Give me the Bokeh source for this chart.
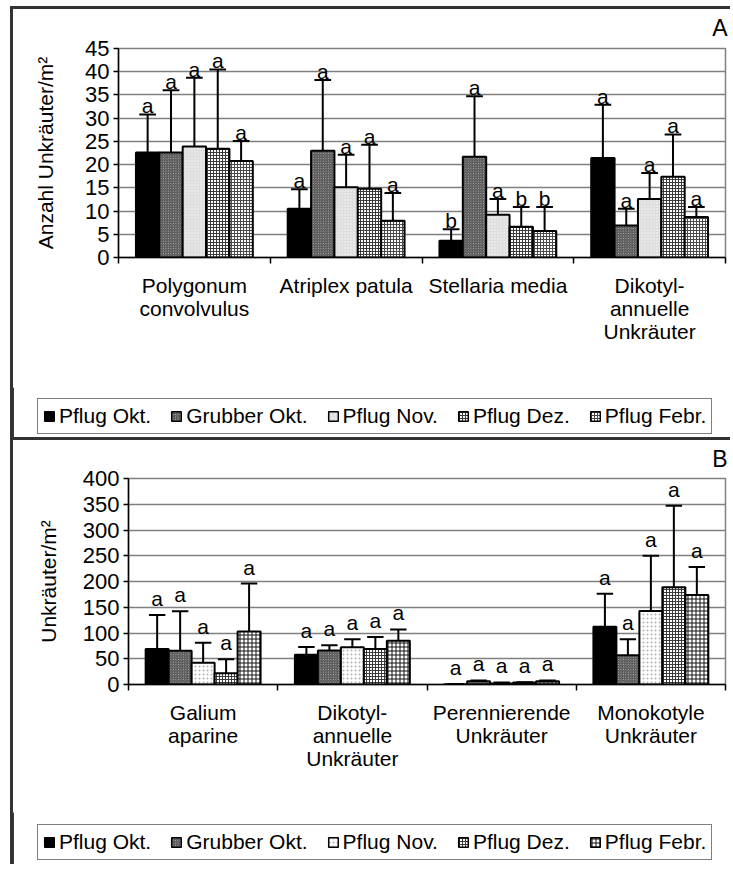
import numpy as np
from bokeh.plotting import figure
from bokeh.models import FixedTicker, Legend, LegendItem, Range1d
from bokeh.core.properties import value
from bokeh.embed import file_html
from bokeh.resources import INLINE

FONT = "Liberation Sans"

series = ["Pflug Okt.", "Grubber Okt.", "Pflug Nov.", "Pflug Dez.", "Pflug Febr."]

# ---- Panel A: Anzahl Unkräuter/m² ----
cats_a = ["Polygonum\nconvolvulus", "Atriplex patula", "Stellaria media",
          "Dikotyl-\nannuelle\nUnkräuter"]
a_pflug_okt = [22.6, 10.5, 3.6, 21.4]
a_grubber_okt = [22.6, 23.0, 21.7, 6.9]
a_pflug_nov = [23.9, 15.1, 9.2, 12.6]
a_pflug_dez = [23.4, 14.8, 6.6, 17.4]
a_pflug_febr = [20.8, 7.9, 5.7, 8.7]

a_sd_pflug_okt = [8.2, 4.2, 2.5, 11.5]
a_sd_grubber_okt = [13.4, 15.2, 13.0, 3.6]
a_sd_pflug_nov = [14.8, 7.0, 3.4, 5.6]
a_sd_pflug_dez = [17.1, 9.5, 4.3, 9.1]
a_sd_pflug_febr = [4.3, 6.0, 5.2, 2.2]

a_sig_pflug_okt = ["a", "a", "b", "a"]
a_sig_grubber_okt = ["a", "a", "a", "a"]
a_sig_pflug_nov = ["a", "a", "a", "a"]
a_sig_pflug_dez = ["a", "a", "b", "a"]
a_sig_pflug_febr = ["a", "a", "b", "a"]

# ---- Panel B: Unkräuter/m² ----
cats_b = ["Galium\naparine", "Dikotyl-\nannuelle\nUnkräuter",
          "Perennierende\nUnkräuter", "Monokotyle\nUnkräuter"]
b_pflug_okt = [69, 58, 0.5, 112]
b_grubber_okt = [65.5, 66, 6.5, 57]
b_pflug_nov = [42, 72.5, 2, 142.5]
b_pflug_dez = [22, 69, 4, 189]
b_pflug_febr = [103, 85, 6.5, 174]

b_sd_pflug_okt = [66, 15, 0.5, 64]
b_sd_grubber_okt = [76.5, 10, 1.5, 31]
b_sd_pflug_nov = [39, 15.5, 2, 107.5]
b_sd_pflug_dez = [27, 23, 0.5, 158]
b_sd_pflug_febr = [93, 22, 1.5, 54]

b_sig = ["a", "a", "a", "a"]

a_yticks = list(range(0, 46, 5))
b_yticks = list(range(0, 401, 50))

# fill styles per series (panel A, panel B)
styles_a = [
    dict(fill_color="black"),
    dict(fill_color="#e4e4e4", hatch_pattern="\\", hatch_color="#444444", hatch_scale=2.5, hatch_weight=1),
    dict(fill_color="#dedede", hatch_pattern=".", hatch_color="#f6f6f6", hatch_scale=3, hatch_weight=1),
    dict(fill_color="#ffffff", hatch_pattern="+", hatch_color="#3a3a3a", hatch_scale=3, hatch_weight=1),
    dict(fill_color="#ffffff", hatch_pattern="+", hatch_color="#4a4a4a", hatch_scale=3, hatch_weight=1),
]
styles_b = [
    dict(fill_color="black"),
    dict(fill_color="#e4e4e4", hatch_pattern="\\", hatch_color="#444444", hatch_scale=2.5, hatch_weight=1),
    dict(fill_color="#ffffff", hatch_pattern=".", hatch_color="#b0b0b0", hatch_scale=4, hatch_weight=1),
    dict(fill_color="#ffffff", hatch_pattern="+", hatch_color="#3a3a3a", hatch_scale=3, hatch_weight=1),
    dict(fill_color="#ffffff", hatch_pattern="+", hatch_color="#111111", hatch_scale=4, hatch_weight=1),
]

BAR_W = 0.154
CAP_W = 0.11
LINE = "#333333"
CHART_BORDER = {"border-left": f"3px solid {LINE}", "border-top": f"3px solid {LINE}"}
LEGEND_BORDER = {"border-left": f"2px solid {LINE}"}


def chart(tag, cats, means, sds, sigs, yticks, ylabel, styles, height,
          border_left, border_top, border_bottom, label_gap, ylabel_standoff,
          title_standoff, margin):
    ymax = yticks[-1]
    p = figure(width=720, height=height, x_range=Range1d(0, len(cats)),
               y_range=Range1d(0, ymax), output_backend="svg",
               toolbar_location=None, min_border_left=border_left,
               min_border_right=8, min_border_top=border_top,
               min_border_bottom=border_bottom, margin=margin, styles=CHART_BORDER)
    p.background_fill_color = "white"
    p.border_fill_color = "white"
    p.outline_line_color = "#808080"
    p.outline_line_width = 1.5

    p.title.text = tag
    p.title.align = "right"
    p.title.vertical_align = "top"
    p.title.text_font = FONT
    p.title.text_font_size = "23px"
    p.title.text_font_style = "normal"
    p.title.text_color = "black"
    p.title.text_line_height = 0.9
    p.title.standoff = title_standoff
    p.title.offset = -2

    # x axis: labels centred on groups, tick marks at group boundaries
    centres = np.arange(len(cats)) + 0.5
    p.xaxis.ticker = FixedTicker(ticks=list(centres), minor_ticks=list(range(len(cats) + 1)))
    p.xaxis.major_label_overrides = {float(c): lab for c, lab in zip(centres, cats)}
    p.xaxis.major_tick_line_color = None
    p.xaxis.minor_tick_in = 0
    p.xaxis.minor_tick_out = 6
    p.xaxis.minor_tick_line_color = "black"
    p.xaxis.minor_tick_line_width = 1.5
    p.xaxis.axis_line_color = "black"
    p.xaxis.axis_line_width = 1.5
    p.xaxis.major_label_text_font = FONT
    p.xaxis.major_label_text_font_size = "21px"
    p.xaxis.major_label_text_line_height = 1.0
    p.xaxis.major_label_text_color = "black"
    p.xaxis.major_label_standoff = 10

    p.yaxis.ticker = FixedTicker(ticks=yticks)
    p.yaxis.minor_tick_line_color = None
    p.yaxis.major_tick_in = 0
    p.yaxis.major_tick_out = 5
    p.yaxis.major_tick_line_color = "black"
    p.yaxis.major_tick_line_width = 1.5
    p.yaxis.axis_line_color = "black"
    p.yaxis.axis_line_width = 1.5
    p.yaxis.major_label_text_font = FONT
    p.yaxis.major_label_text_font_size = "22px"
    p.yaxis.major_label_text_color = "black"
    p.yaxis.major_label_standoff = 4
    p.yaxis.axis_label = ylabel
    p.yaxis.axis_label_text_font = FONT
    p.yaxis.axis_label_text_font_size = "21px"
    p.yaxis.axis_label_text_font_style = "normal"
    p.yaxis.axis_label_text_color = "black"
    p.yaxis.axis_label_standoff = ylabel_standoff

    p.xgrid.grid_line_color = None
    p.ygrid.ticker = FixedTicker(ticks=yticks)
    p.ygrid.grid_line_color = "#808080"
    p.ygrid.grid_line_width = 1.5

    n = len(series)
    offsets = (np.arange(n) - (n - 1) / 2) * BAR_W
    for k in range(n):
        x = centres + offsets[k]
        m = np.array(means[k], dtype=float)
        top = m + np.array(sds[k], dtype=float)
        p.vbar(x=x, top=m, bottom=0, width=BAR_W, line_color="black",
               line_width=2, **styles[k])
        p.segment(x0=x, y0=m, x1=x, y1=top, line_color="black", line_width=2)
        p.segment(x0=x - CAP_W / 2, y0=top, x1=x + CAP_W / 2, y1=top,
                  line_color="black", line_width=2)
        p.text(x=x, y=top, text=sigs[k], text_align="center",
               text_baseline="bottom", y_offset=-label_gap,
               text_font=value(FONT), text_font_size="21px", text_color="black")
    return p


def legend_box(styles, height, location):
    lf = figure(width=721, height=height, x_range=Range1d(0, 1),
                y_range=Range1d(0, 1), output_backend="svg",
                toolbar_location=None, x_axis_location=None,
                y_axis_location=None, min_border=0,
                margin=(0, 0, 0, 10), styles=LEGEND_BORDER)
    lf.grid.visible = False
    lf.outline_line_color = None
    items = []
    for k in range(len(series)):
        # legend proxy bar, kept outside the visible x range
        r = lf.vbar(x=[-5.0], top=[1.0], width=0.1, line_color="black",
                    line_width=1.5, **styles[k])
        items.append(LegendItem(label=series[k], renderers=[r]))
    legend = Legend(items=items, orientation="horizontal", location=location,
                    border_line_color="black", border_line_width=1.5,
                    background_fill_color="white", background_fill_alpha=1.0,
                    label_text_font=FONT, label_text_font_size="21px",
                    label_text_color="black",
                    glyph_width=12, glyph_height=12, label_standoff=4,
                    spacing=19, padding=5, margin=0, label_height=20)
    lf.add_layout(legend)
    return lf


pa = chart("A", cats_a,
           [a_pflug_okt, a_grubber_okt, a_pflug_nov, a_pflug_dez, a_pflug_febr],
           [a_sd_pflug_okt, a_sd_grubber_okt, a_sd_pflug_nov, a_sd_pflug_dez, a_sd_pflug_febr],
           [a_sig_pflug_okt, a_sig_grubber_okt, a_sig_pflug_nov, a_sig_pflug_dez, a_sig_pflug_febr],
           a_yticks, "Anzahl Unkräuter/m²", styles_a, 381, 105, 39, 133, -3, 25, 11,
           (6, 0, 0, 10))
la = legend_box(styles_a, 50, (25, 3))

pb = chart("B", cats_b,
           [b_pflug_okt, b_grubber_okt, b_pflug_nov, b_pflug_dez, b_pflug_febr],
           [b_sd_pflug_okt, b_sd_grubber_okt, b_sd_pflug_nov, b_sd_pflug_dez, b_sd_pflug_febr],
           [b_sig] * 5,
           b_yticks, "Unkräuter/m²", styles_b, 375, 115, 38, 131, 5, 20, 10,
           (0, 0, 0, 10))
lb = legend_box(styles_b, 52, (25, 4))

# separate roots, stacked on the page, so the plot frames are laid out independently
open("out.html", "w").write(file_html([pa, la, pb, lb], INLINE))
